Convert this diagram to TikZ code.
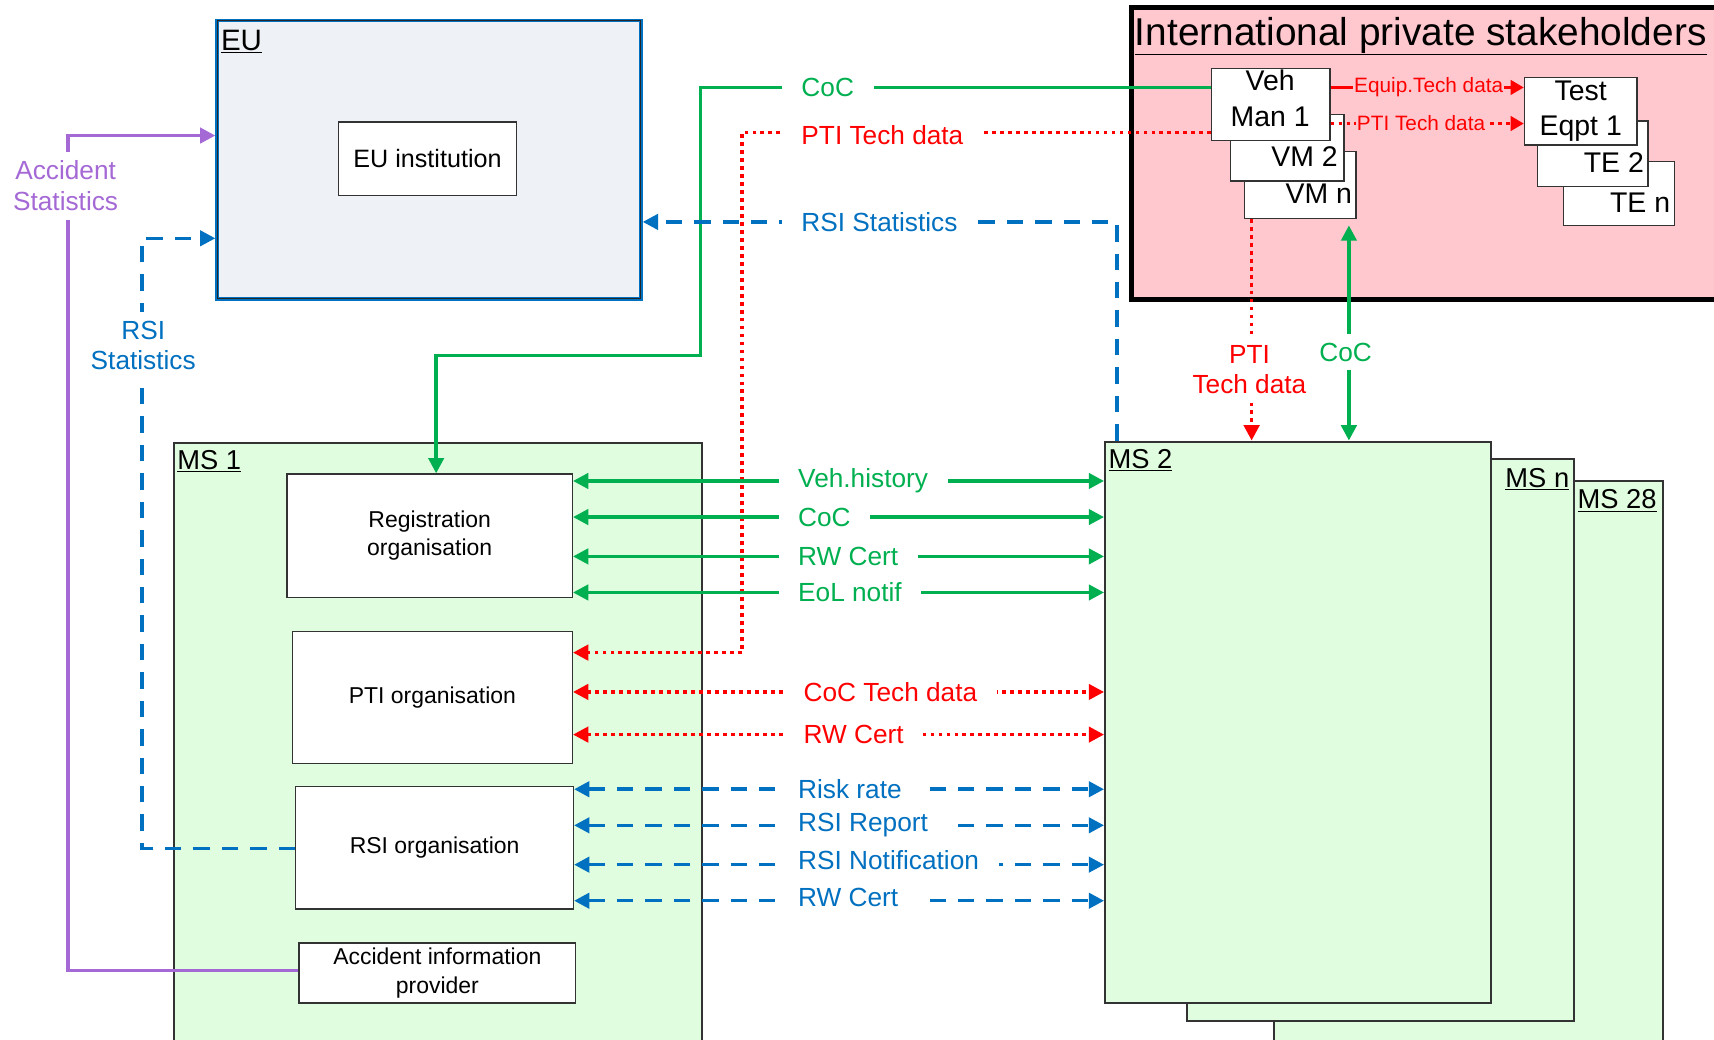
\documentclass[tikz,border=0pt]{standalone}
\usepackage{fontspec}
\setmainfont{Liberation Sans}
\usetikzlibrary{arrows.meta}
\definecolor{cgreen}{RGB}{0,176,80}
\definecolor{cred}{RGB}{255,0,0}
\definecolor{cblue}{RGB}{0,112,192}
\definecolor{cpurple}{RGB}{164,105,213}
\definecolor{msfill}{RGB}{224,253,224}
\definecolor{eufill}{RGB}{238,241,246}
\definecolor{pinkfill}{RGB}{255,199,206}
\newcommand\myfs[2]{\fontsize{#1}{#2}\selectfont}
\begin{document}
\begin{tikzpicture}[x=1pt,y=-1pt,
  >={Triangle[length=14pt,width=14pt]},
  msbox/.style={draw=black!80, line width=1.8pt, fill=msfill, inner sep=0pt, anchor=north west},
  wbox/.style={draw=black!80, line width=1.2pt, fill=white, inner sep=0pt, anchor=north west, align=center},
  gline/.style={draw=cgreen, line width=3.2pt},
  rline/.style={draw=cred, line width=3.2pt, dash pattern=on 3.5pt off 3.8pt},
  bline/.style={draw=cblue, line width=3.2pt, dash pattern=on 15pt off 11pt},
  pline/.style={draw=cpurple, line width=3.2pt},
  lab/.style={fill=white, inner xsep=18pt, inner ysep=3pt, font=\myfs{24}{28}, anchor=west},
  vlab/.style={fill=white, inner xsep=4pt, inner ysep=8pt, font=\myfs{24}{28}, align=center},
  boxtxt/.style={font=\myfs{21}{26}},
  ttl/.style={anchor=west, inner sep=0pt, font=\myfs{25}{28}},
]
\fill[white] (0,0) rectangle (1568,951);
\clip (0,0) rectangle (1568,951);

% big boxes
\node[msbox, minimum width=355pt, minimum height=525pt] (ms28) at (1165,439) {};
\node[msbox, minimum width=354pt, minimum height=514pt] (msn) at (1085,419) {};
\node[msbox, minimum width=353pt, minimum height=514pt] (ms2) at (1010,403) {};
\node[msbox, minimum width=483pt, minimum height=560pt] (ms1) at (158,404) {};
\node[draw=cblue, line width=3pt, fill=eufill, inner sep=0pt, anchor=north west, minimum width=388pt, minimum height=255pt] (eu) at (197,17) {};
\draw[black!85, line width=1.2pt] ([shift={(1.8pt,-1.8pt)}]eu.north west) rectangle ([shift={(-1.8pt,1.8pt)}]eu.south east);
\node[draw=black, line width=4pt, fill=pinkfill, inner sep=0pt, anchor=north west, minimum width=560pt, minimum height=267pt] (intl) at (1033,5) {};

% titles
\node[ttl, font=\myfs{35.5}{40}] (intlt) at (1038,33) {\underline{International private stakeholders}};
\node[ttl, font=\myfs{27}{30}] (eut) at (202,38) {\underline{EU}};
\node[ttl] (ms1t) at (162,422) {\underline{MS 1}};
\node[ttl] (ms2t) at (1014,421) {\underline{MS 2}};
\node[ttl] (msnt) at (1377,438) {\underline{MS n}};
\node[ttl] (ms28t) at (1443,458) {\underline{MS 28}};

% inner boxes
\node[wbox, minimum width=163pt, minimum height=67pt, font=\myfs{23}{27}] (euinst) at (309,111) {EU institution};
\node[wbox, minimum width=261pt, minimum height=113pt, boxtxt] (reg) at (262,433) {Registration\\organisation};
\node[wbox, minimum width=256pt, minimum height=121pt, boxtxt] (pti) at (267,577) {PTI organisation};
\node[wbox, minimum width=254pt, minimum height=112pt, boxtxt] (rsi) at (270,719) {RSI organisation};
\node[wbox, minimum width=253pt, minimum height=55pt, boxtxt] (aip) at (273,862) {Accident information\\provider};

\node[wbox, minimum width=102pt, minimum height=61pt] (vmn) at (1138,138) {};
\node[wbox, minimum width=104pt, minimum height=61pt] (vm2) at (1125,104) {};
\node[wbox, minimum width=108pt, minimum height=66pt] (vm1) at (1108,62) {};
\node[inner sep=0pt, align=center, font=\myfs{26}{33}] (vm1t) at (1162,90) {Veh\\Man 1};
\node[anchor=east, inner sep=0pt, font=\myfs{26}{30}] (vm2t) at (1224,143) {VM 2};
\node[anchor=east, inner sep=0pt, font=\myfs{26}{30}] (vmnt) at (1237,177) {VM n};

\node[wbox, minimum width=101pt, minimum height=59pt] (ten) at (1430,147) {};
\node[wbox, minimum width=101pt, minimum height=60pt] (te2) at (1406,110) {};
\node[wbox, minimum width=103pt, minimum height=62pt, font=\myfs{26}{32}] (test) at (1394,70) {Test\\Eqpt 1};
\node[anchor=east, inner sep=0pt, font=\myfs{26}{30}] (te2t) at (1504,149) {TE 2};
\node[anchor=east, inner sep=0pt, font=\myfs{26}{30}] (tent) at (1528,185) {TE n};

% connectors inside international box
\draw[cred, line width=3pt, ->, >={Triangle[length=12pt,width=13pt]}] (vm1.east |- 0,80) -- (test.west |- 0,80);
\draw[cred, line width=3pt, dash pattern=on 3.5pt off 3.8pt, ->, >={Triangle[length=12pt,width=13pt]}] (vm1.east |- 0,113) -- (test.west |- 0,113);
\node[fill=pinkfill, inner xsep=1pt, inner ysep=1pt, text=cred, font=\myfs{19}{22}] (l_eq) at (1307,80) {Equip.Tech data};
\node[fill=pinkfill, inner xsep=1pt, inner ysep=1pt, text=cred, font=\myfs{19}{22}] (l_pt) at (1300,113) {PTI Tech data};

% long connectors
\draw[gline, ->] (vm1.west |- 0,80) -- (641,80) -- (641,325) -- (399,325) -- (reg.north -| 399,0);
\draw[rline, ->] (vm1.west |- 0,121) -- (679,121) -- (679,597) -- (pti.east |- 0,597);
\draw[bline, ->] (ms2.north -| 1022,0) -- (1022,203) -- (eu.east |- 0,203);
\draw[pline, ->] (aip.west |- 0,888) -- (62,888) -- (62,124) -- (eu.west |- 0,124);
\draw[bline, ->] (rsi.west |- 0,776) -- (130,776) -- (130,218) -- (eu.west |- 0,218);
\draw[rline, ->] (vmn.south -| 1145,0) -- (ms2.north -| 1145,0);
\draw[gline, <->, shorten <=6pt] (vmn.south -| 1234,0) -- (ms2.north -| 1234,0);

\node[lab, text=cgreen] (t_coc) at (715,80) {CoC};
\node[lab, text=cred] (t_pti) at (715,124) {PTI Tech data};
\node[lab, text=cblue] (t_rsis) at (715,203) {RSI Statistics};
\node[vlab, text=cpurple] (t_acc) at (60,170) {Accident\\Statistics};
\node[vlab, text=cblue] (t_rsil) at (131,316) {RSI\\Statistics};
\node[vlab, text=cred] (t_ptiv) at (1143,338) {PTI\\Tech data};
\node[vlab, text=cgreen] (t_cocv) at (1231,322) {CoC};

% horizontal exchanges MS1 <-> MS2
\draw[gline, <->] (reg.east |- 0,440) -- (ms2.west |- 0,440);
\draw[gline, <->] (reg.east |- 0,473) -- (ms2.west |- 0,473);
\draw[gline, <->] (reg.east |- 0,509) -- (ms2.west |- 0,509);
\draw[gline, <->] (reg.east |- 0,542) -- (ms2.west |- 0,542);
\draw[rline, <->] (pti.east |- 0,633) -- (ms2.west |- 0,633);
\draw[rline, <->] (pti.east |- 0,672) -- (ms2.west |- 0,672);
\draw[bline, <->] (rsi.east |- 0,722) -- (ms2.west |- 0,722);
\draw[bline, <->] (rsi.east |- 0,755) -- (ms2.west |- 0,755);
\draw[bline, <->] (rsi.east |- 0,791) -- (ms2.west |- 0,791);
\draw[bline, <->] (rsi.east |- 0,824) -- (ms2.west |- 0,824);

\node[lab, text=cgreen] (h1) at (712,440) {Veh.history};
\node[lab, text=cgreen] (h2) at (712,473) {CoC};
\node[lab, text=cgreen] (h3) at (712,509) {RW Cert};
\node[lab, text=cgreen] (h4) at (712,542) {EoL notif};
\node[lab, text=cred] (h5) at (717,633) {CoC Tech data};
\node[lab, text=cred] (h6) at (717,672) {RW Cert};
\node[lab, text=cblue] (h7) at (712,722) {Risk rate};
\node[lab, text=cblue] (h8) at (712,755) {RSI Report};
\node[lab, text=cblue] (h9) at (712,787) {RSI Notification};
\node[lab, text=cblue] (h10) at (712,821) {RW Cert};
\end{tikzpicture}
\end{document}
